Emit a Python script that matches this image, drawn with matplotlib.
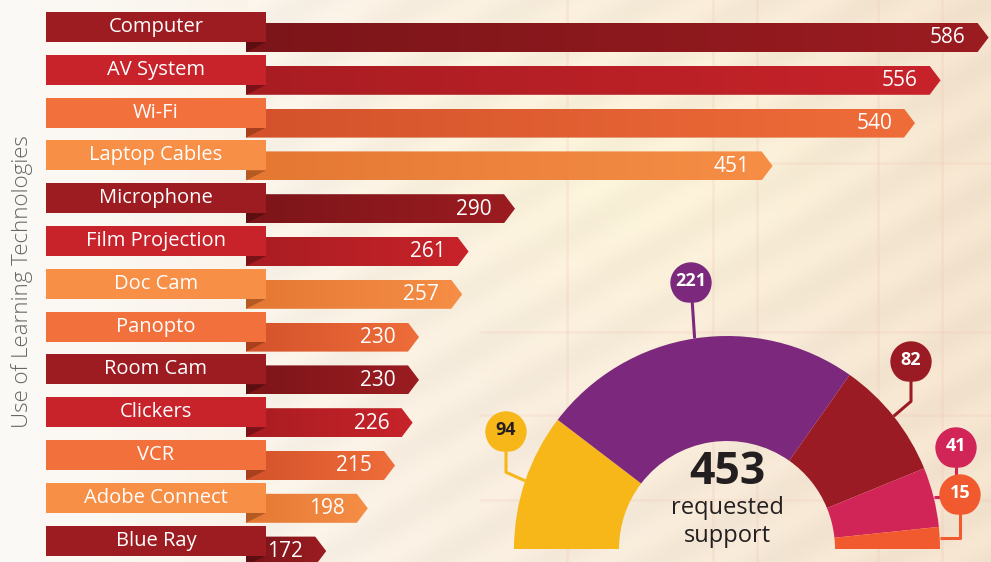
import numpy as np
import matplotlib
matplotlib.use('Agg')
import matplotlib.pyplot as plt
from matplotlib.patches import Polygon, Rectangle
from matplotlib.colors import to_rgb, LinearSegmentedColormap

plt.rcParams['font.family'] = ['Open Sans', 'DejaVu Sans']

# データ
tech_labels = ['Computer', 'AV System', 'Wi-Fi', 'Laptop Cables', 'Microphone',
               'Film Projection', 'Doc Cam', 'Panopto', 'Room Cam', 'Clickers',
               'VCR', 'Adobe Connect', 'Blue Ray']
tech_counts = [586, 556, 540, 451, 290, 261, 257, 230, 230, 226, 215, 198, 172]
row_style = ['dark', 'red', 'orange', 'light', 'dark', 'red', 'light', 'orange',
             'dark', 'red', 'orange', 'light', 'dark']

support_counts = [94, 221, 82, 41, 15]
support_total = sum(support_counts)

box_colors = {'dark': '#9d1c22', 'red': '#c8222a', 'orange': '#f2703b', 'light': '#f78f46'}
bar_left = {'dark': '#7b1519', 'red': '#a81d22', 'orange': '#d3522b', 'light': '#e47833'}
bar_right = {'dark': '#9b1c21', 'red': '#c8232a', 'orange': '#ef6d39', 'light': '#f68e46'}
fold_colors = {'dark': '#5c0e11', 'red': '#7a1217', 'orange': '#a8401d', 'light': '#b45a22'}
support_colors = ['#f7b719', '#7b287d', '#9b1b24', '#d22557', '#f05a2e']
support_text = ['#231f20', 'white', 'white', 'white', 'white']

W, H = 991, 562
fig = plt.figure(figsize=(W / 100, H / 100), dpi=100)
ax = fig.add_axes([0, 0, 1, 1])

# ピクセル -> データ座標
PX_PER_UNIT = 1.6
X0 = 40
ROW_H = 42.8
Y0 = 12


def px_x(p):
    return (p - X0) / PX_PER_UNIT


def px_y(p):
    return (p - Y0) / ROW_H


# 背景
xx, yy = np.meshgrid(np.arange(W), np.arange(H))
c_left = np.array(to_rgb('#fcfaf7'))
c_mid = np.array(to_rgb('#f8eee0'))
c_right = np.array(to_rgb('#f4e3ce'))
t = (xx / W)[..., None]
bg = np.where(t < 0.45, c_left + (c_mid - c_left) * (t / 0.45),
              c_mid + (c_right - c_mid) * ((t - 0.45) / 0.55))
glow = 0.6 * np.exp(-(((xx - 640) / 230) ** 2 + ((yy - 170) / 160) ** 2))[..., None]
bg = bg * (1 - glow) + np.array(to_rgb('#fdf6d8')) * glow
stripe = 0.012 * np.sin((xx + 1.8 * yy) / 18.0)[..., None] * (t > 0.25)
bg = np.clip(bg + stripe, 0, 1)
line_c = np.array(to_rgb('#eebfb0'))
for x in [567, 713, 757, 878, 942]:
    bg[:, x - 1:x + 2] = bg[:, x - 1:x + 2] * 0.8 + line_c * 0.2
for y, x_from in [(163, 700), (332, 480), (415, 480), (500, 480)]:
    bg[y - 1:y + 2, x_from:] = bg[y - 1:y + 2, x_from:] * 0.82 + line_c * 0.18

ax.imshow(bg, extent=(px_x(0), px_x(W), px_y(H), px_y(0)), aspect='auto',
          zorder=0, interpolation='bilinear')

# 棒グラフ
bar_start = px_x(246)
tip = 11 / PX_PER_UNIT
box_l, box_r = px_x(46), px_x(266)
box_h = 30 / ROW_H
bar_off = 11 / ROW_H
bar_h = 29 / ROW_H
fold_h = 10 / ROW_H
grad = np.linspace(0, 1, 256)[None, :]

for i, (name, val, st) in enumerate(zip(tech_labels, tech_counts, row_style)):
    top = i + bar_off
    pts = [(bar_start, top), (val, top), (val + tip, top + bar_h / 2),
           (val, top + bar_h), (bar_start, top + bar_h)]
    poly = Polygon(pts, closed=True, facecolor='none', edgecolor='none')
    ax.add_patch(poly)
    cmap = LinearSegmentedColormap.from_list('g%d' % i, [bar_left[st], bar_right[st]])
    im = ax.imshow(grad, cmap=cmap, extent=(bar_start, val + tip, top + bar_h, top),
                   aspect='auto', zorder=2)
    im.set_clip_path(poly)
    ax.add_patch(Polygon([(bar_start, i + box_h), (box_r, i + box_h),
                          (bar_start, i + box_h + fold_h)],
                         facecolor=fold_colors[st], edgecolor='none', zorder=3))
    ax.add_patch(Rectangle((box_l, i), box_r - box_l, box_h,
                           facecolor=box_colors[st], edgecolor='none', zorder=4))
    ax.text((box_l + box_r) / 2, i + box_h / 2, name, color='white', fontsize=14.5,
            ha='center', va='center', zorder=5)
    ax.text(val - 12 / PX_PER_UNIT, top + bar_h / 2 + 0.01, str(val), color='white',
            fontsize=15, ha='right', va='center', zorder=5)

ax.set_xlim(px_x(0), px_x(W))
ax.set_ylim(px_y(H), px_y(0))
ax.axis('off')

fig.text(22 / W, 1 - 282 / H, 'Use of Learning Technologies', rotation=90,
         fontsize=16, color='#666666', ha='center', va='center', fontweight='light')

# 半円ドーナツ
R = 213
L = 1.45
cx, cy_top = 727, 549
size = 2 * L * R
ax2 = fig.add_axes([(cx - L * R) / W, ((H - cy_top) - L * R) / H, size / W, size / H])
wedges, _ = ax2.pie(support_counts + [support_total],
                    colors=support_colors + ['none'], startangle=180,
                    counterclock=False, radius=1,
                    wedgeprops=dict(width=1 - 108 / 213, edgecolor='none', linewidth=0))
wedges[-1].set_visible(False)
ax2.set_xlim(-L, L)
ax2.set_ylim(-L, L)
ax2.set_aspect('equal')
ax2.axis('off')

cum = np.cumsum(support_counts)
mid_ang = np.radians(180 - (cum - np.array(support_counts) / 2) / support_total * 180)

marker_px = [(506, 432), (691, 283), (911, 362), (956, 448), (960, 495)]
elbow = [0.04, None, 0.07, 0.0, 0.0]
rb = 20 / R
# 吹き出しの形: 上は円、下は少し細い角丸
tt = np.linspace(0, 2 * np.pi, 160)
c, s = np.cos(tt), np.sin(tt)
lower = s < 0
bulb_x = np.where(lower, np.sign(c) * np.abs(c) ** 0.7 * (1 - 0.22 * np.abs(s)), c)
bulb_y = np.where(lower, -np.abs(s) ** 0.7 * 0.95, s)

for k, (val, col) in enumerate(zip(support_counts, support_colors)):
    ax_, ay_ = np.cos(mid_ang[k]), np.sin(mid_ang[k])
    mx = (marker_px[k][0] - cx) / R
    my = (cy_top - marker_px[k][1]) / R
    if elbow[k] is None:
        sx, sy = [ax_, mx], [ay_, my]
    else:
        sx, sy = [ax_, mx, mx], [ay_, ay_ + elbow[k], my]
    z = 3 + 2 * k
    ax2.plot(sx, sy, color=col, lw=2.2, solid_capstyle='butt', zorder=z)
    ax2.fill(mx + rb * bulb_x, my + rb * bulb_y, color=col, zorder=z + 0.5)
    ax2.text(mx, my + 0.01, str(val), color=support_text[k], fontsize=13,
             fontweight='bold', ha='center', va='center', zorder=z + 1)

ax2.text(0, (cy_top - 473) / R, str(support_total), fontsize=32, fontweight='bold',
         color='#231f20', ha='center', va='center', zorder=20)
ax2.text(0, (cy_top - 508) / R, 'requested', fontsize=17, color='#231f20',
         ha='center', va='center', zorder=20)
ax2.text(0, (cy_top - 536) / R, 'support', fontsize=17, color='#231f20',
         ha='center', va='center', zorder=20)

fig.savefig('out.png', dpi=100)
